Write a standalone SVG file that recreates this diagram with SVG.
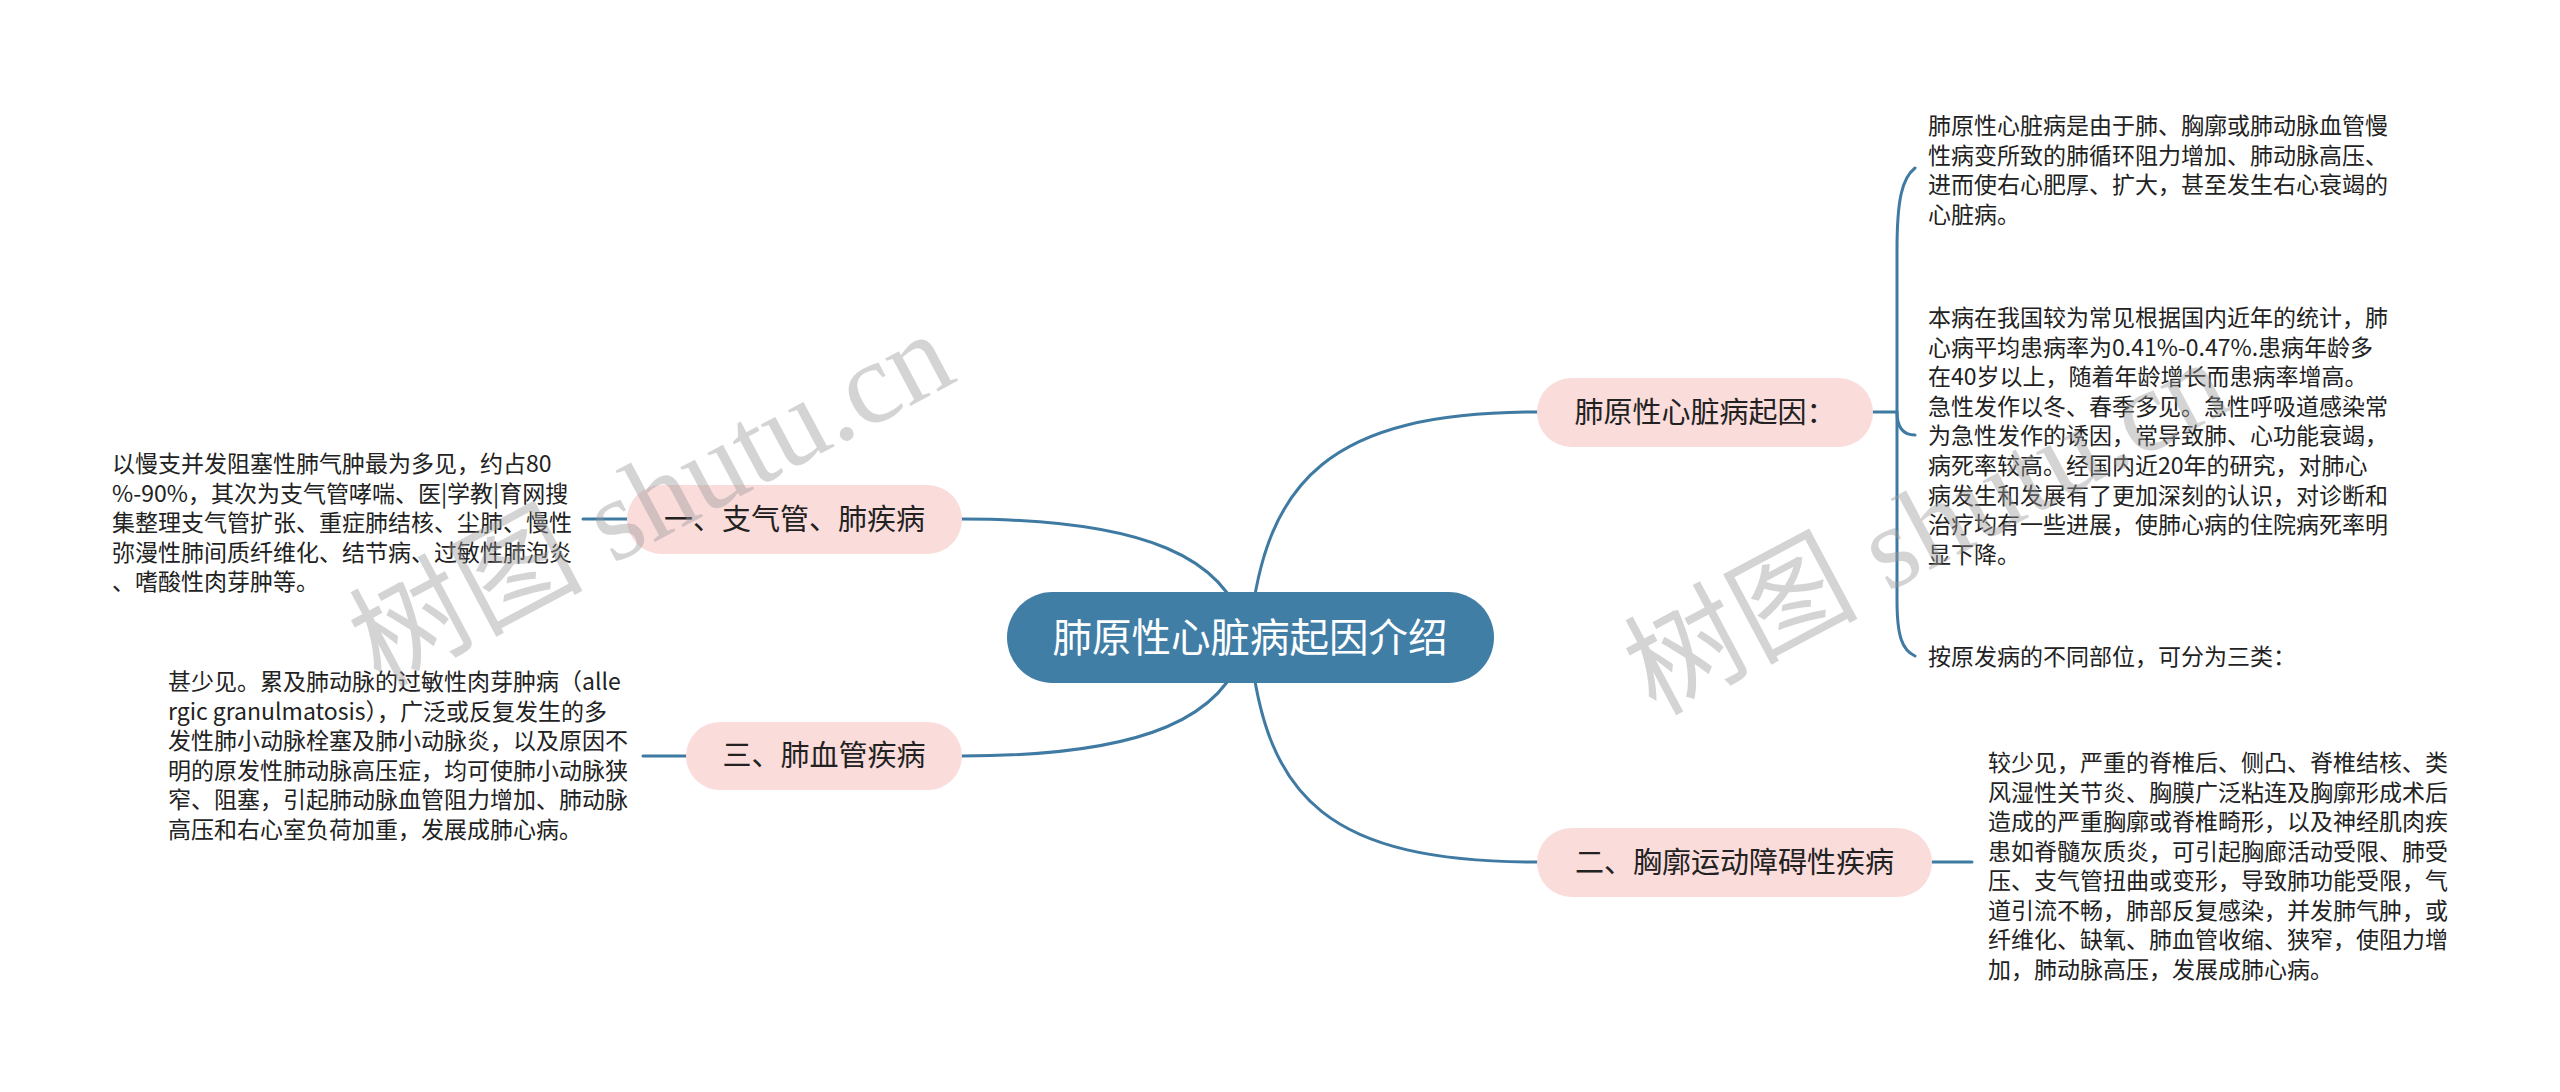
<svg xmlns="http://www.w3.org/2000/svg" width="2560" height="1092" viewBox="0 0 2560 1092">
<style>
.line{fill:none;stroke:#3f7aa2;stroke-width:3;stroke-linecap:round}
.pill{fill:#fadcdb}
.lbl{font-family:"Noto Sans CJK SC","Liberation Sans",sans-serif;font-size:29px;fill:#222;text-anchor:middle}
.txt{font-family:"Noto Sans CJK SC","Liberation Sans",sans-serif;font-size:23px;fill:#222}
.wm{font-family:"Liberation Serif","Noto Sans CJK SC",serif;font-size:117px;fill:#9a9a9a;opacity:0.42}
</style>
<rect width="2560" height="1092" fill="#ffffff"/>
<g id="connectors">
<path class="line" d="M1245,630 C1226,560 1150,519 962,519"/>
<path class="line" d="M1245,645 C1226,715 1150,756 962,756"/>
<path class="line" d="M1250,630 C1266,480 1330,412 1537,412"/>
<path class="line" d="M1250,645 C1266,800 1330,862 1537,862"/>
<path class="line" d="M583,519 L627,519"/>
<path class="line" d="M643,756 L686,756"/>
<path class="line" d="M1873,412 L1897,412"/>
<path class="line" d="M1915,168 C1902,178 1897,200 1897,250 L1897,412 C1897,428 1904,435 1915,435"/>
<path class="line" d="M1897,412 L1897,600 C1897,636 1902,650 1915,656"/>
<path class="line" d="M1932,862 L1972,862"/>
</g>
<g id="root">
<rect x="1007" y="592" width="487" height="91" rx="45.5" fill="#417ea6"/>
<text x="1250" y="651.5" font-family="Noto Sans CJK SC,Liberation Sans,sans-serif" font-size="39.5" fill="#ffffff" text-anchor="middle">肺原性心脏病起因介绍</text>
</g>
<g id="n-cause">
<rect class="pill" x="1537" y="378" width="336" height="69" rx="34.5"/>
<text class="lbl" x="1705" y="422.5">肺原性心脏病起因：</text>
</g>
<g id="n-cause-t1">
<text class="txt" x="1928" y="134">肺原性心脏病是由于肺、胸廓或肺动脉血管慢</text>
<text class="txt" x="1928" y="163.5">性病变所致的肺循环阻力增加、肺动脉高压、</text>
<text class="txt" x="1928" y="193">进而使右心肥厚、扩大，甚至发生右心衰竭的</text>
<text class="txt" x="1928" y="222.5">心脏病。</text>
</g>
<g id="n-cause-t2">
<text class="txt" x="1928" y="326">本病在我国较为常见根据国内近年的统计，肺</text>
<text class="txt" x="1928" y="355.6">心病平均患病率为0.41%-0.47%.患病年龄多</text>
<text class="txt" x="1928" y="385.2">在40岁以上，随着年龄增长而患病率增高。</text>
<text class="txt" x="1928" y="414.8">急性发作以冬、春季多见。急性呼吸道感染常</text>
<text class="txt" x="1928" y="444.4">为急性发作的诱因，常导致肺、心功能衰竭，</text>
<text class="txt" x="1928" y="474">病死率较高。经国内近20年的研究，对肺心</text>
<text class="txt" x="1928" y="503.6">病发生和发展有了更加深刻的认识，对诊断和</text>
<text class="txt" x="1928" y="533.2">治疗均有一些进展，使肺心病的住院病死率明</text>
<text class="txt" x="1928" y="562.8">显下降。</text>
</g>
<g id="n-cause-t3">
<text class="txt" x="1928" y="665">按原发病的不同部位，可分为三类：</text>
</g>
<g id="n-chest">
<rect class="pill" x="1537" y="828" width="395" height="69" rx="34.5"/>
<text class="lbl" x="1734.5" y="872.5">二、胸廓运动障碍性疾病</text>
</g>
<g id="n-chest-t">
<text class="txt" x="1988" y="771">较少见，严重的脊椎后、侧凸、脊椎结核、类</text>
<text class="txt" x="1988" y="800.5">风湿性关节炎、胸膜广泛粘连及胸廓形成术后</text>
<text class="txt" x="1988" y="830">造成的严重胸廓或脊椎畸形，以及神经肌肉疾</text>
<text class="txt" x="1988" y="859.5">患如脊髓灰质炎，可引起胸廊活动受限、肺受</text>
<text class="txt" x="1988" y="889">压、支气管扭曲或变形，导致肺功能受限，气</text>
<text class="txt" x="1988" y="918.5">道引流不畅，肺部反复感染，并发肺气肿，或</text>
<text class="txt" x="1988" y="948">纤维化、缺氧、肺血管收缩、狭窄，使阻力增</text>
<text class="txt" x="1988" y="977.5">加，肺动脉高压，发展成肺心病。</text>
</g>
<g id="n-bronch">
<rect class="pill" x="627" y="485" width="335" height="69" rx="34.5"/>
<text class="lbl" x="794.5" y="529.5">一、支气管、肺疾病</text>
</g>
<g id="n-bronch-t">
<text class="txt" x="112" y="472">以慢支并发阻塞性肺气肿最为多见，约占80</text>
<text class="txt" x="112" y="501.5">%-90%，其次为支气管哮喘、医|学教|育网搜</text>
<text class="txt" x="112" y="531">集整理支气管扩张、重症肺结核、尘肺、慢性</text>
<text class="txt" x="112" y="560.5">弥漫性肺间质纤维化、结节病、过敏性肺泡炎</text>
<text class="txt" x="112" y="590">、嗜酸性肉芽肿等。</text>
</g>
<g id="n-vessel">
<rect class="pill" x="686" y="722" width="276" height="68" rx="34"/>
<text class="lbl" x="824" y="766">三、肺血管疾病</text>
</g>
<g id="n-vessel-t">
<text class="txt" x="168" y="690">甚少见。累及肺动脉的过敏性肉芽肿病（alle</text>
<text class="txt" x="168" y="719.6">rgic granulmatosis），广泛或反复发生的多</text>
<text class="txt" x="168" y="749.2">发性肺小动脉栓塞及肺小动脉炎，以及原因不</text>
<text class="txt" x="168" y="778.8">明的原发性肺动脉高压症，均可使肺小动脉狭</text>
<text class="txt" x="168" y="808.4">窄、阻塞，引起肺动脉血管阻力增加、肺动脉</text>
<text class="txt" x="168" y="838">高压和右心室负荷加重，发展成肺心病。</text>
</g>
<g id="watermark">
<text class="wm" transform="translate(380,688) rotate(-28)">树图 shutu.cn</text>
<text class="wm" transform="translate(1655,716) rotate(-28)">树图 shutu.cn</text>
</g>
</svg>
